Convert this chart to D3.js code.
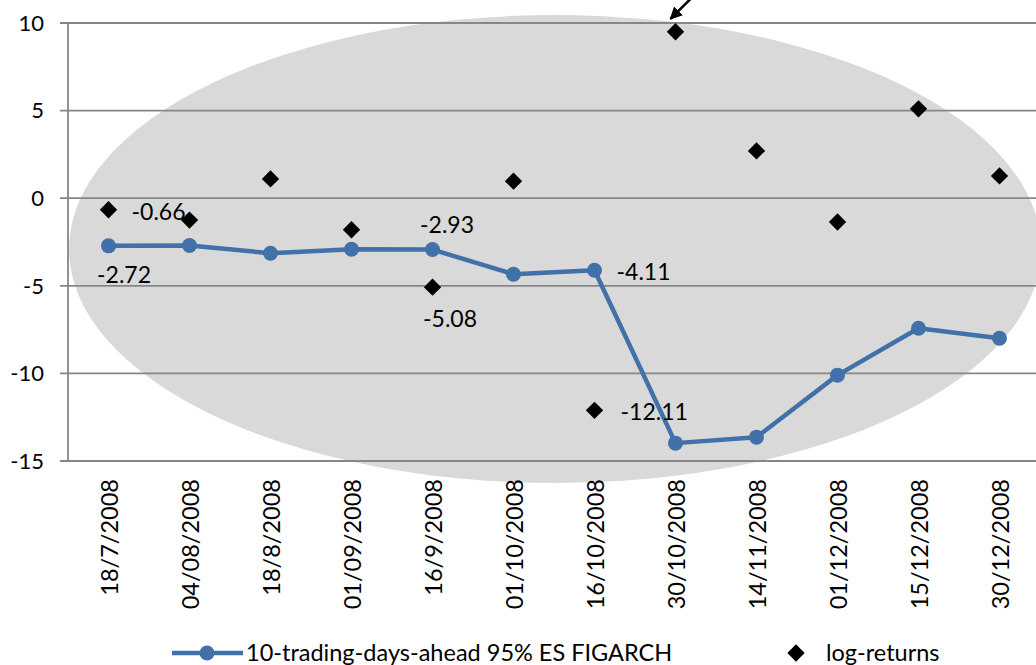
<!DOCTYPE html>
<html><head><meta charset="utf-8">
<script src="https://cdn.jsdelivr.net/npm/d3@7"></script>
<style>body{margin:0;background:#fff}svg{display:block}</style>
</head><body>
<script>
const categories = ["18/7/2008","04/08/2008","18/8/2008","01/09/2008","16/9/2008","01/10/2008","16/10/2008","30/10/2008","14/11/2008","01/12/2008","15/12/2008","30/12/2008"];
const esValues = [-2.72,-2.70,-3.14,-2.91,-2.93,-4.34,-4.11,-13.98,-13.64,-10.10,-7.42,-7.99];
const logReturns = [-0.66,-1.25,1.10,-1.80,-5.08,0.97,-12.11,9.50,2.70,-1.36,5.10,1.27];
const yTicks = [10,5,0,-5,-10,-15];
const seriesNames = ["10-trading-days-ahead 95% ES FIGARCH","log-returns"];

const W=1036,H=665;
const font = "Lato, 'Open Sans', sans-serif";
const svg=d3.select("body").append("svg").attr("width",W).attr("height",H);
const x=d3.scaleBand().domain(categories).range([68,1040]);
const y=d3.scaleLinear().domain([-15,10]).range([461,23]);
const cx=c=>x(c)+x.bandwidth()/2;

// ellipse highlight
svg.append("ellipse").attr("cx",555).attr("cy",249).attr("rx",486).attr("ry",234).attr("fill","#d9d9d9");

// gridlines
svg.append("g").selectAll("line").data(yTicks).join("line")
  .attr("x1",60).attr("x2",W).attr("y1",d=>y(d)).attr("y2",d=>y(d))
  .attr("stroke","#878787").attr("stroke-width",1.8);
svg.append("line").attr("x1",68).attr("x2",68).attr("y1",y(10)).attr("y2",y(-15)).attr("stroke","#878787").attr("stroke-width",1.8);

// y labels
svg.append("g").selectAll("text").data(yTicks).join("text")
  .attr("x",44).attr("y",d=>y(d)).attr("dy","0.35em").attr("text-anchor","end")
  .attr("font-family",font).attr("font-size",22).attr("fill","#000").text(d=>d);

// x labels
svg.append("g").selectAll("text").data(categories).join("text")
  .attr("transform",d=>`translate(${cx(d)+1},479) rotate(-90)`)
  .attr("dy","0.35em").attr("text-anchor","end")
  .attr("font-family",font).attr("font-size",23.5).attr("fill","#000").text(d=>d);

// ES line
const color="#4270a8";
const line=d3.line().x((d,i)=>cx(categories[i])).y(d=>y(d));
svg.append("path").datum(esValues).attr("d",line).attr("fill","none").attr("stroke",color).attr("stroke-width",4.5).attr("stroke-linejoin","round");
svg.append("g").selectAll("circle").data(esValues).join("circle")
  .attr("cx",(d,i)=>cx(categories[i])).attr("cy",d=>y(d)).attr("r",7.5).attr("fill",color);

// diamonds
svg.append("g").selectAll("path").data(logReturns).join("path")
  .attr("transform",(d,i)=>`translate(${cx(categories[i])},${y(d)}) rotate(45)`)
  .attr("d",d3.symbol().type(d3.symbolSquare).size(150)).attr("fill","#000");

// data labels
const lbl=(xx,yy,t,anchor)=>svg.append("text").attr("x",xx).attr("y",yy).attr("dy","0.35em")
  .attr("text-anchor",anchor||"start").attr("font-family",font).attr("font-size",23).attr("fill","#000").text(t);
const f=v=>v.toFixed(2);
lbl(cx(categories[0])+23,y(logReturns[0])+2,f(logReturns[0]));
lbl(cx(categories[0])+15.5,y(esValues[0])+29,f(esValues[0]),"middle");
lbl(cx(categories[4])+14.5,y(esValues[4])-25,f(esValues[4]),"middle");
lbl(cx(categories[4])+17.5,y(logReturns[4])+32,f(logReturns[4]),"middle");
lbl(cx(categories[6])+22,y(esValues[6])+2,f(esValues[6]));
lbl(cx(categories[6])+26,y(logReturns[6])+2,f(logReturns[6]));

// arrow
svg.append("defs").append("marker").attr("id","ah").attr("viewBox","0 0 10 10").attr("refX",9).attr("refY",5)
  .attr("markerWidth",5).attr("markerHeight",5).attr("orient","auto")
  .append("path").attr("d","M0,0L10,5L0,10z").attr("fill","#000");
svg.append("line").attr("x1",cx(categories[7])+16).attr("y1",-2).attr("x2",cx(categories[7])-5).attr("y2",y(logReturns[7])-13)
  .attr("stroke","#000").attr("stroke-width",2.5).attr("marker-end","url(#ah)");

// legend
const lg=svg.append("g");
lg.append("line").attr("x1",172).attr("x2",243).attr("y1",653).attr("y2",653).attr("stroke",color).attr("stroke-width",4.5);
lg.append("circle").attr("cx",207).attr("cy",653).attr("r",7.5).attr("fill",color);
lg.append("text").attr("x",246).attr("y",653).attr("dy","0.35em").attr("font-family",font).attr("font-size",23.5).text(seriesNames[0]);
lg.append("path").attr("transform","translate(796,653) rotate(45)").attr("d",d3.symbol().type(d3.symbolSquare).size(150)).attr("fill","#000");
lg.append("text").attr("x",826).attr("y",653).attr("dy","0.35em").attr("font-family",font).attr("font-size",23.5).text(seriesNames[1]);
</script>
</body></html>
